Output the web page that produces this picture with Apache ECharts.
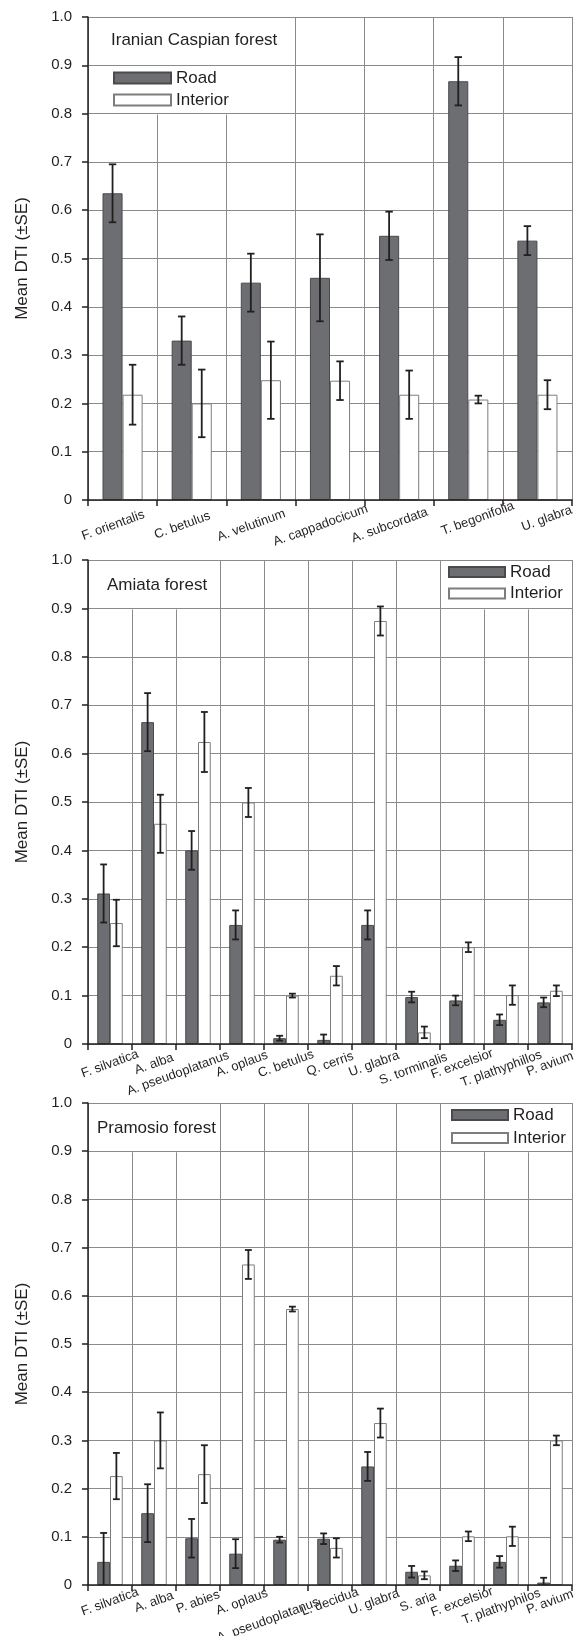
<!DOCTYPE html>
<html><head><meta charset="utf-8">
<script src="https://cdn.jsdelivr.net/npm/echarts@6/dist/echarts.min.js"></script>
<style>html,body{margin:0;padding:0;background:#fff}#c{width:578px;height:1636px}</style>
</head><body><div id="c"></div>
<script>
// ---------------- DATA ----------------
const seriesNames = ['Road', 'Interior'];
const yAxisTitle = 'Mean DTI (\u00b1SE)';

const iranTitle = 'Iranian Caspian forest';
const iranCategories = ['F. orientalis', 'C. betulus', 'A. velutinum', 'A. cappadocicum', 'A. subcordata', 'T. begonifolia', 'U. glabra'];
const iranRoad     = [0.635, 0.330, 0.450, 0.460, 0.547, 0.867, 0.537];
const iranRoadSE   = [0.060, 0.050, 0.060, 0.090, 0.050, 0.050, 0.030];
const iranInterior   = [0.218, 0.200, 0.248, 0.247, 0.218, 0.208, 0.218];
const iranInteriorSE = [0.062, 0.070, 0.080, 0.040, 0.050, 0.008, 0.030];

const amiataTitle = 'Amiata forest';
const amiataCategories = ['F. silvatica', 'A. alba', 'A. pseudoplatanus', 'A. oplaus', 'C. betulus', 'Q. cerris', 'U. glabra', 'S. torminalis', 'F. excelsior', 'T. plathyphillos', 'P. avium'];
const amiataRoad     = [0.311, 0.665, 0.400, 0.246, 0.012, 0.0085, 0.246, 0.097, 0.090, 0.050, 0.086];
const amiataRoadSE   = [0.060, 0.060, 0.040, 0.030, 0.005, 0.011, 0.030, 0.011, 0.010, 0.011, 0.010];
const amiataInterior   = [0.250, 0.455, 0.624, 0.499, 0.100, 0.141, 0.874, 0.024, 0.200, 0.101, 0.110];
const amiataInteriorSE = [0.048, 0.060, 0.062, 0.030, 0.004, 0.020, 0.030, 0.012, 0.010, 0.020, 0.011];

const pramosioTitle = 'Pramosio forest';
const pramosioCategories = ['F. silvatica', 'A. alba', 'P. abies', 'A. oplaus', 'A. pseudoplatanus', 'L. decidua', 'U. glabra', 'S. aria', 'F. excelsior', 'T. plathyphilos', 'P. avium'];
const pramosioRoad     = [0.048, 0.149, 0.097, 0.065, 0.094, 0.096, 0.246, 0.0275, 0.040, 0.048, 0.005];
const pramosioRoadSE   = [0.060, 0.060, 0.040, 0.030, 0.006, 0.011, 0.030, 0.012, 0.011, 0.012, 0.010];
const pramosioInterior   = [0.226, 0.300, 0.230, 0.665, 0.5725, 0.077, 0.336, 0.020, 0.101, 0.101, 0.300];
const pramosioInteriorSE = [0.048, 0.058, 0.060, 0.030, 0.005, 0.020, 0.030, 0.008, 0.010, 0.020, 0.010];

// ---------------- FONTS ----------------
function fontAvailable(name) {
  const ctx = document.createElement('canvas').getContext('2d');
  const s = 'The quick brown fox jumps 0123456789';
  ctx.font = '40px monospace'; const a = ctx.measureText(s).width;
  ctx.font = '40px "' + name + '", monospace'; const b = ctx.measureText(s).width;
  ctx.font = '40px serif'; const c = ctx.measureText(s).width;
  ctx.font = '40px "' + name + '", serif'; const d = ctx.measureText(s).width;
  return a !== b || c !== d;
}
const HAS_NARROW = fontAvailable('Liberation Sans Narrow');
const NARROW = HAS_NARROW ? '"Liberation Sans Narrow", "Liberation Sans", sans-serif' : '"Liberation Sans", sans-serif';
const NS = HAS_NARROW ? 1 : 0.86;
const REG = '"Liberation Sans", Arial, sans-serif';
const INK = '#231f20';
const GRIDC = '#8a8a8a';

// ---------------- LAYOUT ----------------
const LEFT = 88, RIGHT = 6, PLOT_W = 578 - LEFT - RIGHT;
const BAR_FRAC = 0.29;
const LABEL_ROT = 20;

const panels = [
  { title: iranTitle, cats: iranCategories, road: iranRoad, roadSE: iranRoadSE, inter: iranInterior, interSE: iranInteriorSE,
    top: 17, height: 483, titleLeft: 111, titleTop: 28,
    legendLeft: 113, legendTop: 68, iconW: 57, iconH: 11, legendGap: 2,
    labelMargin: 22,
    labelStyle: ['l', 'l', 'l', 'l', 'l', 'r', 'r'],
    masks: [{ c0: 0, c1: 3, v: 0.8 }] },
  { title: amiataTitle, cats: amiataCategories, road: amiataRoad, roadSE: amiataRoadSE, inter: amiataInterior, interSE: amiataInteriorSE,
    top: 560, height: 484, titleLeft: 107, titleTop: 573,
    legendLeft: 448, legendTop: 562, iconW: 56, iconH: 10, legendGap: 1.5,
    labelMargin: 20,
    labelStyle: ['n', 'n', 'p2', 'n', 'n', 'n', 'n', 't', 'n', 't', 'n'],
    masks: [{ c0: 0, c1: 3, v: 0.9 }, { c0: 8, c1: 11, v: 0.9 }] },
  { title: pramosioTitle, cats: pramosioCategories, road: pramosioRoad, roadSE: pramosioRoadSE, inter: pramosioInterior, interSE: pramosioInteriorSE,
    top: 1103, height: 482, titleLeft: 97, titleTop: 1116,
    legendLeft: 451, legendTop: 1105, iconW: 56, iconH: 10, legendGap: 3,
    labelMargin: 17,
    labelStyle: ['n', 'n', 'n', 'n', 'p3', 'n', 'n', 'n', 'n', 't', 'n'],
    masks: [{ c0: 0, c1: 3, v: 0.9 }, { c0: 8, c1: 11, v: 0.9 }] }
];

const LABEL_SIZE = HAS_NARROW ? 14 : 13;
// per-style shift: [along text direction px, perpendicular (down) px]
const labelShift = { n: [0, 0], l: [-10, 0], r: [10, 0], p2: [-22, 2], p3: [-23, 11], t: [-6, 3] };

function errRender(params, api) {
  const k = api.value(0), v = api.value(1), se = api.value(2), side = api.value(3);
  const band = api.size([1, 0])[0];
  const bw = band * BAR_FRAC;
  const x = api.coord([k, 0])[0] + side * bw / 2;
  const lo = v - se;
  const yHi = api.coord([k, v + se])[1];
  const yLo = api.coord([k, Math.max(0, lo)])[1];
  const h = Math.min(3.7, bw * 0.27);
  const st = { stroke: INK, lineWidth: 1.8 };
  const ch = [
    { type: 'line', shape: { x1: x, y1: yHi, x2: x, y2: yLo }, style: st },
    { type: 'line', shape: { x1: x - h, y1: yHi, x2: x + h, y2: yHi }, style: st }
  ];
  if (lo > 0) ch.push({ type: 'line', shape: { x1: x - h, y1: yLo, x2: x + h, y2: yLo }, style: st });
  return { type: 'group', children: ch };
}

// category labels drawn as a custom series at the axis (positions from the axis scale)
function makeLabelRender(p) {
  return function (params, api) {
    const k = api.value(0);
    const pt = api.coord([k, 0]);
    const sh = labelShift[p.labelStyle[k]];
    const a = LABEL_ROT * Math.PI / 180;
    const x = pt[0] + sh[0] * Math.cos(a) + sh[1] * Math.sin(a);
    const y = pt[1] + p.labelMargin - sh[0] * Math.sin(a) + sh[1] * Math.cos(a);
    return {
      type: 'text', x: x, y: y, rotation: a,
      style: { text: p.cats[k], fill: INK, font: LABEL_SIZE + 'px ' + NARROW, align: 'center', verticalAlign: 'middle' }
    };
  };
}

const option = {
  animation: false,
  backgroundColor: '#fff',
  grid: [], xAxis: [], yAxis: [], series: [], title: [], legend: [], graphic: []
};

panels.forEach((p, i) => {
  option.grid.push({ left: LEFT, top: p.top, width: PLOT_W, height: p.height, containLabel: false });
  option.xAxis.push({
    gridIndex: i, type: 'category', data: p.cats, z: 0, boundaryGap: true,
    axisLine: { show: false }, axisTick: { show: false }, axisLabel: { show: false },
    splitLine: { show: true, interval: 0, lineStyle: { color: GRIDC, width: 1 } }
  });
  option.xAxis.push({
    gridIndex: i, type: 'category', data: p.cats, z: 5, position: 'bottom', boundaryGap: true,
    axisLine: { show: true, onZero: false, lineStyle: { color: INK, width: 1.5 } },
    axisTick: { show: true, interval: 0, length: 6, alignWithLabel: false, lineStyle: { color: INK, width: 1.5 } },
    axisLabel: { show: false },
    splitLine: { show: false }
  });
  option.yAxis.push({
    gridIndex: i, type: 'value', min: 0, max: 1, interval: 0.1, z: 2,
    axisLine: { show: true, lineStyle: { color: INK, width: 1.5 } },
    axisTick: { show: true, length: 6, lineStyle: { color: INK, width: 1.5 } },
    axisLabel: { margin: 16, fontSize: 15, fontFamily: REG, color: INK,
      formatter: v => (v === 0 ? '0' : v.toFixed(1)) },
    splitLine: { show: true, lineStyle: { color: GRIDC, width: 1 } },
    name: yAxisTitle, nameLocation: 'middle', nameGap: 57,
    nameTextStyle: { fontSize: Math.round(20 * NS), fontFamily: NARROW, color: INK }
  });
  const xi = i * 2;
  option.series.push({
    name: seriesNames[0], type: 'bar', xAxisIndex: xi, yAxisIndex: i, z: 3,
    barWidth: (BAR_FRAC * 100) + '%', barGap: '0%', data: p.road,
    itemStyle: { color: '#6d6e71', borderColor: '#4a4a4c', borderWidth: 1 }
  });
  option.series.push({
    name: seriesNames[1], type: 'bar', xAxisIndex: xi, yAxisIndex: i, z: 3,
    barWidth: (BAR_FRAC * 100) + '%', barGap: '0%', data: p.inter,
    itemStyle: { color: '#ffffff', borderColor: '#7d7d7d', borderWidth: 1 }
  });
  const errData = p.road.map((v, k) => [k, v, p.roadSE[k], -1])
    .concat(p.inter.map((v, k) => [k, v, p.interSE[k], 1]));
  option.series.push({
    name: 'err' + i, type: 'custom', xAxisIndex: xi, yAxisIndex: i, z: 4,
    data: errData, renderItem: errRender, encode: { x: 0, y: 1 }, silent: true
  });
  option.series.push({
    name: 'lbl' + i, type: 'custom', xAxisIndex: xi + 1, yAxisIndex: i, z: 6, clip: false,
    data: p.cats.map((c, k) => [k, 0]), renderItem: makeLabelRender(p), encode: { x: 0, y: 1 }, silent: true
  });
  option.title.push({
    text: p.title, left: p.titleLeft, top: p.titleTop, padding: 0,
    textStyle: { fontSize: Math.round(20 * NS), fontWeight: 'normal', fontFamily: NARROW, color: INK, lineHeight: 24 }
  });
  option.legend.push({
    data: seriesNames, orient: 'vertical', left: p.legendLeft, top: p.legendTop, padding: 0,
    itemWidth: p.iconW, itemHeight: p.iconH, itemGap: p.legendGap, icon: 'rect', selectedMode: false,
    textStyle: { fontSize: Math.round(20 * NS), fontFamily: NARROW, color: INK, lineHeight: 20 }
  });
  const catW = PLOT_W / p.cats.length;
  p.masks.forEach(m => {
    const x0 = LEFT + m.c0 * catW + (m.c0 === 0 ? 1 : 2);
    const x1 = LEFT + m.c1 * catW - (m.c1 === p.cats.length ? 1 : 2);
    const y1 = p.top + (1 - m.v) * p.height + 1;
    option.graphic.push({
      type: 'rect', z: 1, silent: true,
      shape: { x: x0, y: p.top + 1, width: x1 - x0, height: y1 - p.top - 1 },
      style: { fill: '#ffffff' }
    });
  });
});

const chart = echarts.init(document.getElementById('c'), null, { renderer: 'canvas' });
chart.setOption(option);
</script>
</body></html>
